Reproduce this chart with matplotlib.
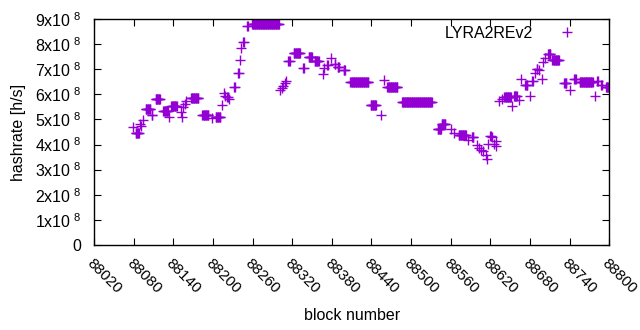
import numpy as np
import matplotlib.pyplot as plt
import matplotlib.transforms as mtransforms

plt.rcParams['font.family'] = ['Liberation Sans', 'DejaVu Sans']
plt.rcParams['mathtext.fontset'] = 'custom'
plt.rcParams['mathtext.rm'] = 'Liberation Sans'

# runs of equal hashrate: first block, number of blocks, value (x1e8 h/s)
run_start = [88079, 88083, 88089, 88091, 88094, 88098, 88107, 88113, 88125, 88133,
             88137, 88151, 88153, 88155, 88157, 88159, 88167, 88184, 88199, 88204,
             88214, 88216, 88218, 88221, 88225, 88232, 88238, 88241, 88242, 88246,
             88252, 88259, 88302, 88304, 88306, 88309, 88310, 88314, 88322, 88337,
             88345, 88354, 88367, 88368, 88373, 88379, 88384, 88389, 88398, 88408,
             88439, 88455, 88459, 88464, 88486, 88540, 88546, 88560, 88565, 88572,
             88586, 88592, 88599, 88603, 88606, 88609, 88614, 88615, 88617, 88620,
             88623, 88626, 88628, 88629, 88633, 88637, 88641, 88652, 88656, 88664,
             88667, 88673, 88680, 88683, 88687, 88690, 88693, 88698, 88700, 88703,
             88707, 88714, 88732, 88740, 88747, 88755, 88778, 88782, 88788, 88795]
run_len = [1, 6, 1, 1, 1, 8, 2, 8, 8, 1,
           9, 1, 1, 1, 1, 1, 12, 10, 1, 8,
           1, 1, 1, 2, 1, 2, 2, 1, 1, 2,
           2, 42, 1, 1, 1, 1, 1, 3, 11, 2,
           6, 7, 1, 1, 2, 1, 2, 3, 3, 28,
           9, 1, 1, 16, 46, 6, 7, 1, 1, 12,
           1, 3, 1, 1, 1, 1, 1, 1, 1, 2,
           1, 1, 1, 1, 1, 1, 11, 1, 5, 1,
           1, 4, 1, 2, 1, 2, 1, 1, 1, 1,
           5, 11, 4, 1, 3, 21, 1, 2, 2, 5]
run_val = [4.71, 4.47, 4.80, 4.73, 4.97, 5.42, 5.17, 5.82, 5.33, 5.10,
           5.54, 5.30, 5.11, 5.50, 5.63, 5.73, 5.86, 5.18, 5.07, 5.11,
           5.56, 6.06, 5.95, 5.90, 5.83, 6.30, 6.85, 7.37, 7.84, 8.08,
           8.72, 8.80, 6.19, 6.26, 6.35, 6.46, 6.52, 7.33, 7.65, 7.07,
           7.49, 7.35, 6.83, 7.05, 7.18, 7.45, 7.22, 7.10, 6.97, 6.49,
           5.58, 5.17, 6.59, 6.30, 5.70, 4.60, 4.83, 4.63, 4.48, 4.40,
           4.17, 4.30, 3.99, 3.85, 3.78, 3.74, 3.57, 3.44, 4.03, 4.33,
           4.30, 4.03, 3.94, 4.14, 5.75, 5.83, 5.90, 5.53, 5.93, 5.79,
           6.63, 6.36, 5.94, 6.55, 6.85, 7.02, 6.96, 6.61, 7.31, 7.45,
           7.62, 7.38, 6.45, 6.19, 6.63, 6.48, 5.94, 6.52, 6.39, 6.30]

blocks = np.concatenate([s + np.arange(n) for s, n in zip(run_start, run_len)])
hashrate = np.repeat(run_val, run_len) * 1e8

x_ticks = list(range(88020, 88801, 60))
y_ticks = [i * 1e8 for i in range(10)]
y_labels = ['0'] + [r'$\mathregular{%dx10^{\ 8}}$' % i for i in range(1, 10)]

fig = plt.figure(figsize=(6.4, 3.3), dpi=100)
ax = fig.add_axes([0.147, 0.258, 0.805, 0.684])

ax.plot(blocks, hashrate, '+', color='#9400d3', markersize=6.5, mew=1.0,
        label='LYRA2REv2')

ax.set_xlim(88020, 88800)
ax.set_ylim(0, 9e8)
ax.set_xticks(x_ticks)
ax.set_xticklabels([str(t) for t in x_ticks], rotation=-45, ha='left', va='top',
                   rotation_mode='anchor')
shift = mtransforms.ScaledTranslation(5 / 72, 0, fig.dpi_scale_trans)
for lbl in ax.get_xticklabels():
    lbl.set_transform(lbl.get_transform() + shift)
ax.set_yticks(y_ticks)
ax.set_yticklabels(y_labels)
ax.tick_params(direction='in', top=True, right=True, length=5, labelsize=11.5,
               colors='black')
ax.tick_params(axis='x', pad=8, labelsize=11)
ax.tick_params(axis='y', pad=9)
for s in ax.spines.values():
    s.set_linewidth(1.0)

ax.set_xlabel('block number', fontsize=11.5, labelpad=9)
ax.set_ylabel('hashrate [h/s]', fontsize=11.5, labelpad=7)

ax.legend(loc='upper right', markerfirst=False, frameon=False, fontsize=11.5,
          handletextpad=1.3, handlelength=1.6, borderaxespad=0,
          bbox_to_anchor=(0.955, 1.0))

fig.savefig('out.png', dpi=100)
